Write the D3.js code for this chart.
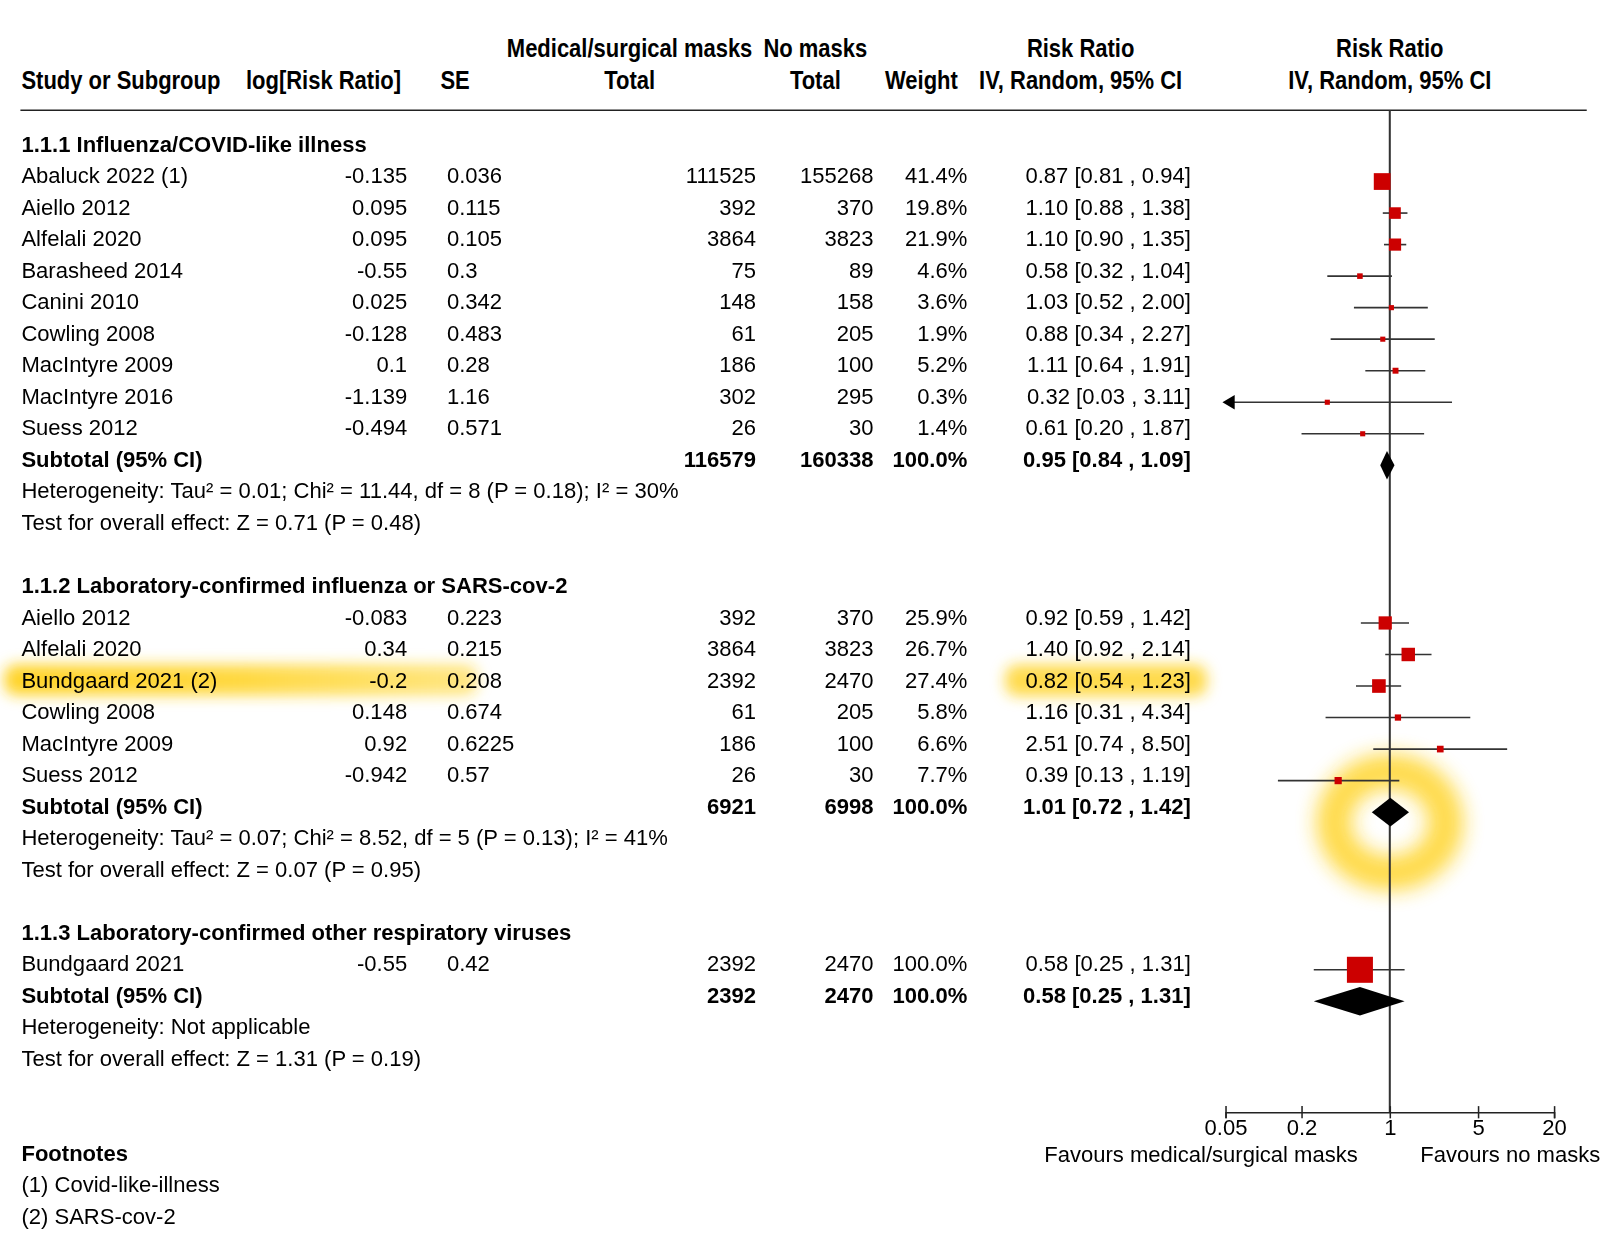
<!DOCTYPE html>
<html>
<head>
<meta charset="utf-8">
<script src="https://cdn.jsdelivr.net/npm/d3@7"></script>
<style>
  body { margin: 0; background: #fff; }
  svg text { font-family: Arial, "Liberation Sans", sans-serif; font-size: 21.6px; fill: #000; }
  .hdr { font-weight: bold; font-size: 25px; }
  .b { font-weight: bold; }
</style>
</head>
<body>
<div id="chart"></div>
<script>
// groups of the forest plot
const groupTitles = [
  "1.1.1 Influenza/COVID-like illness",
  "1.1.2 Laboratory-confirmed influenza or SARS-cov-2",
  "1.1.3 Laboratory-confirmed other respiratory viruses"
];

// one row per study: name, logRR, SE, masks total, no masks total, weight, rr, lo, hi
const studies1 = [
  ["Abaluck 2022 (1)", "-0.135", "0.036", 111525, 155268, 41.4, 0.87, 0.81, 0.94],
  ["Aiello 2012", "0.095", "0.115", 392, 370, 19.8, 1.10, 0.88, 1.38],
  ["Alfelali 2020", "0.095", "0.105", 3864, 3823, 21.9, 1.10, 0.90, 1.35],
  ["Barasheed 2014", "-0.55", "0.3", 75, 89, 4.6, 0.58, 0.32, 1.04],
  ["Canini 2010", "0.025", "0.342", 148, 158, 3.6, 1.03, 0.52, 2.00],
  ["Cowling 2008", "-0.128", "0.483", 61, 205, 1.9, 0.88, 0.34, 2.27],
  ["MacIntyre 2009", "0.1", "0.28", 186, 100, 5.2, 1.11, 0.64, 1.91],
  ["MacIntyre 2016", "-1.139", "1.16", 302, 295, 0.3, 0.32, 0.03, 3.11],
  ["Suess 2012", "-0.494", "0.571", 26, 30, 1.4, 0.61, 0.20, 1.87]
];
const studies2 = [
  ["Aiello 2012", "-0.083", "0.223", 392, 370, 25.9, 0.92, 0.59, 1.42],
  ["Alfelali 2020", "0.34", "0.215", 3864, 3823, 26.7, 1.40, 0.92, 2.14],
  ["Bundgaard 2021 (2)", "-0.2", "0.208", 2392, 2470, 27.4, 0.82, 0.54, 1.23],
  ["Cowling 2008", "0.148", "0.674", 61, 205, 5.8, 1.16, 0.31, 4.34],
  ["MacIntyre 2009", "0.92", "0.6225", 186, 100, 6.6, 2.51, 0.74, 8.50],
  ["Suess 2012", "-0.942", "0.57", 26, 30, 7.7, 0.39, 0.13, 1.19]
];
const studies3 = [
  ["Bundgaard 2021", "-0.55", "0.42", 2392, 2470, 100.0, 0.58, 0.25, 1.31]
];

// subtotals: masks total, no masks total, weight, rr, lo, hi
const subtotals = [
  [116579, 160338, 100.0, 0.95, 0.84, 1.09],
  [6921, 6998, 100.0, 1.01, 0.72, 1.42],
  [2392, 2470, 100.0, 0.58, 0.25, 1.31]
];
const heterogeneity = [
  "Heterogeneity: Tau² = 0.01; Chi² = 11.44, df = 8 (P = 0.18); I² = 30%",
  "Heterogeneity: Tau² = 0.07; Chi² = 8.52, df = 5 (P = 0.13); I² = 41%",
  "Heterogeneity: Not applicable"
];
const overallEffect = [
  "Test for overall effect: Z = 0.71 (P = 0.48)",
  "Test for overall effect: Z = 0.07 (P = 0.95)",
  "Test for overall effect: Z = 1.31 (P = 0.19)"
];
const axisTicks = [0.05, 0.2, 1, 5, 20];
const footnotes = ["(1) Covid-like-illness", "(2) SARS-cov-2"];

const W = 1600, H = 1259;
const svgRoot = d3.select("#chart").append("svg").attr("width", W).attr("height", H);

const defs = svgRoot.append("defs");
defs.append("filter").attr("id", "glow").attr("x", "-50%").attr("y", "-50%").attr("width", "200%").attr("height", "200%")
  .append("feGaussianBlur").attr("stdDeviation", 7);
defs.append("filter").attr("id", "glow2").attr("x", "-50%").attr("y", "-50%").attr("width", "200%").attr("height", "200%")
  .append("feGaussianBlur").attr("stdDeviation", 10);
const grad = defs.append("linearGradient").attr("id", "hl");
grad.append("stop").attr("offset", "0%").attr("stop-color", "#ffd21f").attr("stop-opacity", 0.95);
grad.append("stop").attr("offset", "50%").attr("stop-color", "#ffd21f").attr("stop-opacity", 0.85);
grad.append("stop").attr("offset", "100%").attr("stop-color", "#ffd21f").attr("stop-opacity", 0.55);

// layout laid out on a 1568 wide grid, scaled up to the page
const svg = svgRoot.append("g").attr("transform", `scale(${W / 1568})`);

const x = d3.scaleLog().domain([0.05, 20]).range([1201, 1523]);
const boxSize = d3.scaleSqrt().domain([0, 100]).range([0, 25.5]);
const rowY = i => 141 + i * 30.9;
const markOff = 6; // marks sit a little below the text centre

// build row list
const rows = [];
[studies1, studies2, studies3].forEach((st, g) => {
  rows.push({ type: "title", text: groupTitles[g], group: g });
  st.forEach(s => rows.push({ type: "study", d: s, group: g }));
  rows.push({ type: "subtotal", d: subtotals[g], group: g });
  rows.push({ type: "note", text: heterogeneity[g] });
  rows.push({ type: "note", text: overallEffect[g] });
  rows.push({ type: "blank" });
});
rows.forEach((r, i) => r.y = rowY(i));

// highlights (drawn first, under everything)
const hlG = svg.append("g").attr("filter", "url(#glow)");
const bund = rows.find(r => r.type === "study" && r.d[0] === "Bundgaard 2021 (2)");
hlG.append("rect").attr("x", 4).attr("y", bund.y - 15).attr("width", 464).attr("height", 30)
  .attr("rx", 12).attr("fill", "url(#hl)");
hlG.append("rect").attr("x", 985).attr("y", bund.y - 15).attr("width", 198).attr("height", 31)
  .attr("rx", 12).attr("fill", "#ffd21f").attr("opacity", 0.8);
const sub2 = rows.find(r => r.type === "subtotal" && r.group === 1);
svg.append("ellipse").attr("filter", "url(#glow2)").attr("cx", x(1)).attr("cy", sub2.y + 16)
  .attr("rx", 55).attr("ry", 50)
  .attr("fill", "none").attr("stroke", "#ffd21f").attr("stroke-width", 34).attr("opacity", 0.8);

// header, bold condensed
const hdr = svg.append("g");
const hText = (t, xx, y, anchor) => hdr.append("text").attr("class", "hdr")
  .attr("transform", `translate(${xx},${y}) scale(0.862,1)`)
  .attr("dy", "0.35em").attr("text-anchor", anchor).text(t);
hText("Medical/surgical masks", 617, 47, "middle");
hText("No masks", 799, 47, "middle");
hText("Risk Ratio", 1059, 47, "middle");
hText("Risk Ratio", 1362, 47, "middle");
hText("Study or Subgroup", 21, 78, "start");
hText("log[Risk Ratio]", 317, 78, "middle");
hText("SE", 446, 78, "middle");
hText("Total", 617, 78, "middle");
hText("Total", 799, 78, "middle");
hText("Weight", 903, 78, "middle");
hText("IV, Random, 95% CI", 1059, 78, "middle");
hText("IV, Random, 95% CI", 1362, 78, "middle");

svg.append("line").attr("x1", 20).attr("x2", 1555).attr("y1", 108).attr("y2", 108)
  .attr("stroke", "#222").attr("stroke-width", 1.5);

// vertical line of no effect
svg.append("line").attr("x1", x(1)).attr("x2", x(1)).attr("y1", 108).attr("y2", 1090)
  .attr("stroke", "#333").attr("stroke-width", 2);

const fmt = v => v.toFixed(2);
const pct = v => v.toFixed(1) + "%";
const ciText = (rr, lo, hi) => `${fmt(rr)} [${fmt(lo)} , ${fmt(hi)}]`;

const tbl = svg.append("g");
const put = (t, xx, y, anchor, bold) => tbl.append("text").attr("x", xx).attr("y", y).attr("dy", "0.35em")
  .attr("text-anchor", anchor).attr("class", bold ? "b" : null).text(t);

const marks = svg.append("g");
rows.forEach(r => {
  if (r.type === "title") put(r.text, 21, r.y, "start", true);
  if (r.type === "note") put(r.text, 21, r.y, "start", false);
  if (r.type === "study") {
    const d = r.d;
    put(d[0], 21, r.y, "start");
    put(d[1], 399, r.y, "end");
    put(d[2], 438, r.y, "start");
    put(d[3], 741, r.y, "end");
    put(d[4], 856, r.y, "end");
    put(pct(d[5]), 948, r.y, "end");
    put(ciText(d[6], d[7], d[8]), 1167, r.y, "end");
    const ym = r.y + markOff;
    const [lo, hi] = x.domain();
    marks.append("line").attr("x1", x(Math.max(d[7], lo))).attr("x2", x(Math.min(d[8], hi)))
      .attr("y1", ym).attr("y2", ym).attr("stroke", "#333").attr("stroke-width", 1.6);
    if (d[7] < lo) {
      const ax = x(lo) - 3;
      marks.append("path").attr("d", `M${ax},${ym} l12,-7 l0,14 Z`).attr("fill", "#000");
    }
    const s = Math.max(5, boxSize(d[5]));
    marks.append("rect").attr("x", x(d[6]) - s / 2).attr("y", ym - s / 2)
      .attr("width", s).attr("height", s).attr("fill", "#cc0000");
  }
  if (r.type === "subtotal") {
    const d = r.d;
    put("Subtotal (95% CI)", 21, r.y, "start", true);
    put(d[0], 741, r.y, "end", true);
    put(d[1], 856, r.y, "end", true);
    put(pct(d[2]), 948, r.y, "end", true);
    put(ciText(d[3], d[4], d[5]), 1167, r.y, "end", true);
    const ym = r.y + markOff, h = 14;
    marks.append("path")
      .attr("d", `M${x(d[4])},${ym} L${x(d[3])},${ym - h} L${x(d[5])},${ym} L${x(d[3])},${ym + h} Z`)
      .attr("fill", "#000");
  }
});

// axis
const axis = svg.append("g").attr("transform", "translate(0,1090)")
  .call(d3.axisBottom(x).tickValues(axisTicks).tickFormat(d => String(d)).tickSize(6).tickPadding(6));
axis.select(".domain").attr("stroke", "#222").attr("stroke-width", 1.5);
axis.selectAll(".tick line").attr("y1", -6).attr("y2", 6).attr("stroke", "#222").attr("stroke-width", 1.5);
axis.selectAll(".tick text").attr("font-size", null).attr("font-family", null).attr("y", 7).attr("dy", "0.71em");

put("Favours medical/surgical masks", 1177, 1131, "middle");
put("Favours no masks", 1480, 1131, "middle");

// footnotes
put("Footnotes", 21, 1130, "start", true);
footnotes.forEach((f, i) => put(f, 21, 1161 + i * 31, "start"));
</script>
</body>
</html>
